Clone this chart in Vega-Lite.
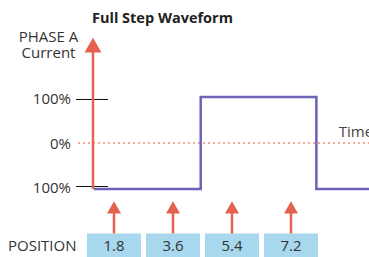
{
  "$schema": "https://vega.github.io/schema/vega-lite/v6.json",
  "width": 369,
  "height": 257,
  "padding": 0,
  "autosize": {"type": "none"},
  "background": "white",
  "config": {"view": {"stroke": null}, "font": "Open Sans"},
  "datasets": {
    "positions": [
      {"label": "1.8", "t": 1, "left": 0.542, "right": 1.458},
      {"label": "3.6", "t": 2, "left": 1.542, "right": 2.458},
      {"label": "5.4", "t": 3, "left": 2.542, "right": 3.458},
      {"label": "7.2", "t": 4, "left": 3.542, "right": 4.458}
    ],
    "wave": [
      {"order": 1, "t": 0.66, "current": -106},
      {"order": 2, "t": 2.47, "current": -106},
      {"order": 3, "t": 2.47, "current": 106},
      {"order": 4, "t": 4.43, "current": 106},
      {"order": 5, "t": 4.43, "current": -106},
      {"order": 6, "t": 5.4, "current": -106}
    ],
    "ticks": [
      {"y": 100, "x0": 0.356, "x1": 0.898, "label": "100%", "ly": 88.5},
      {"y": -100, "x0": 0.356, "x1": 0.898, "label": "100%", "ly": -115}
    ]
  },
  "encoding": {
    "x": {"type": "quantitative", "scale": {"domain": [-0.932, 5.322], "nice": false, "zero": false}, "axis": null},
    "y": {"type": "quantitative", "scale": {"domain": [-262.07, 328.7], "nice": false, "zero": false}, "axis": null}
  },
  "layer": [
    {
      "data": {"name": "positions"},
      "mark": {"type": "rect", "color": "#a7d8ee"},
      "encoding": {
        "x": {"field": "left", "type": "quantitative"},
        "x2": {"field": "right"},
        "y": {"datum": -208},
        "y2": {"datum": -262.07}
      }
    },
    {
      "data": {"name": "positions"},
      "mark": {"type": "text", "fontSize": 15, "color": "#333333", "baseline": "alphabetic", "align": "center"},
      "encoding": {
        "x": {"field": "t", "type": "quantitative"},
        "y": {"datum": -249.4},
        "text": {"field": "label"}
      }
    },
    {
      "data": {"name": "positions"},
      "mark": {"type": "rule", "color": "#e5634e", "strokeWidth": 2.5},
      "encoding": {
        "x": {"field": "t", "type": "quantitative"},
        "y": {"datum": -160},
        "y2": {"datum": -208}
      }
    },
    {
      "data": {"name": "positions"},
      "mark": {"type": "point", "shape": "triangle-up", "size": 196, "filled": true, "opacity": 1, "color": "#e5634e"},
      "encoding": {
        "x": {"field": "t", "type": "quantitative"},
        "y": {"datum": -148}
      }
    },
    {
      "data": {"values": [{"a": 1}]},
      "mark": {"type": "rule", "color": "#ef8f80", "strokeWidth": 1.5, "strokeDash": [2, 3]},
      "encoding": {
        "x": {"datum": 0.39},
        "x2": {"datum": 5.322},
        "y": {"datum": 0}
      }
    },
    {
      "data": {"name": "ticks"},
      "mark": {"type": "rule", "color": "#111111", "strokeWidth": 1},
      "encoding": {
        "x": {"field": "x0", "type": "quantitative"},
        "x2": {"field": "x1"},
        "y": {"field": "y", "type": "quantitative"}
      }
    },
    {
      "data": {"values": [{"a": 1}]},
      "mark": {"type": "rule", "color": "#e5634e", "strokeWidth": 2.5},
      "encoding": {
        "x": {"datum": 0.644},
        "y": {"datum": -106},
        "y2": {"datum": 212}
      }
    },
    {
      "data": {"values": [{"a": 1}]},
      "mark": {"type": "point", "shape": "triangle-up", "size": 289, "filled": true, "opacity": 1, "color": "#e5634e"},
      "encoding": {
        "x": {"datum": 0.644},
        "y": {"datum": 225}
      }
    },
    {
      "data": {"name": "wave"},
      "mark": {"type": "line", "color": "#6b63b5", "strokeWidth": 2.5, "strokeJoin": "miter"},
      "encoding": {
        "x": {"field": "t", "type": "quantitative"},
        "y": {"field": "current", "type": "quantitative"},
        "order": {"field": "order", "type": "quantitative"}
      }
    },
    {
      "data": {"name": "ticks"},
      "mark": {"type": "text", "fontSize": 15, "color": "#333333", "baseline": "alphabetic", "align": "right"},
      "encoding": {
        "x": {"datum": 0.271},
        "y": {"field": "ly", "type": "quantitative"},
        "text": {"field": "label"}
      }
    },
    {
      "data": {"values": [{"label": "0%"}]},
      "mark": {"type": "text", "fontSize": 15, "color": "#333333", "baseline": "alphabetic", "align": "right"},
      "encoding": {
        "x": {"datum": 0.271},
        "y": {"datum": -13.8},
        "text": {"field": "label"}
      }
    },
    {
      "data": {"values": [{"text": ["PHASE A", "Current"]}]},
      "mark": {"type": "text", "fontSize": 15, "lineHeight": 16.7, "color": "#333333", "baseline": "alphabetic", "align": "center"},
      "encoding": {
        "x": {"datum": -0.11},
        "y": {"datum": 232.6},
        "text": {"field": "text"}
      }
    },
    {
      "data": {"values": [{"label": "POSITION"}]},
      "mark": {"type": "text", "fontSize": 15, "color": "#333333", "baseline": "alphabetic", "align": "left"},
      "encoding": {
        "x": {"datum": -0.797},
        "y": {"datum": -249.4},
        "text": {"field": "label"}
      }
    },
    {
      "data": {"values": [{"label": "Time"}]},
      "mark": {"type": "text", "fontSize": 15, "color": "#444444", "baseline": "alphabetic", "align": "left"},
      "encoding": {
        "x": {"datum": 4.81},
        "y": {"datum": 14.9},
        "text": {"field": "label"}
      }
    },
    {
      "data": {"values": [{"label": "Full Step Waveform"}]},
      "mark": {"type": "text", "fontSize": 14.5, "fontWeight": "bold", "color": "#222222", "baseline": "alphabetic", "align": "left"},
      "encoding": {
        "x": {"datum": 0.627},
        "y": {"datum": 276.3},
        "text": {"field": "label"}
      }
    }
  ]
}
